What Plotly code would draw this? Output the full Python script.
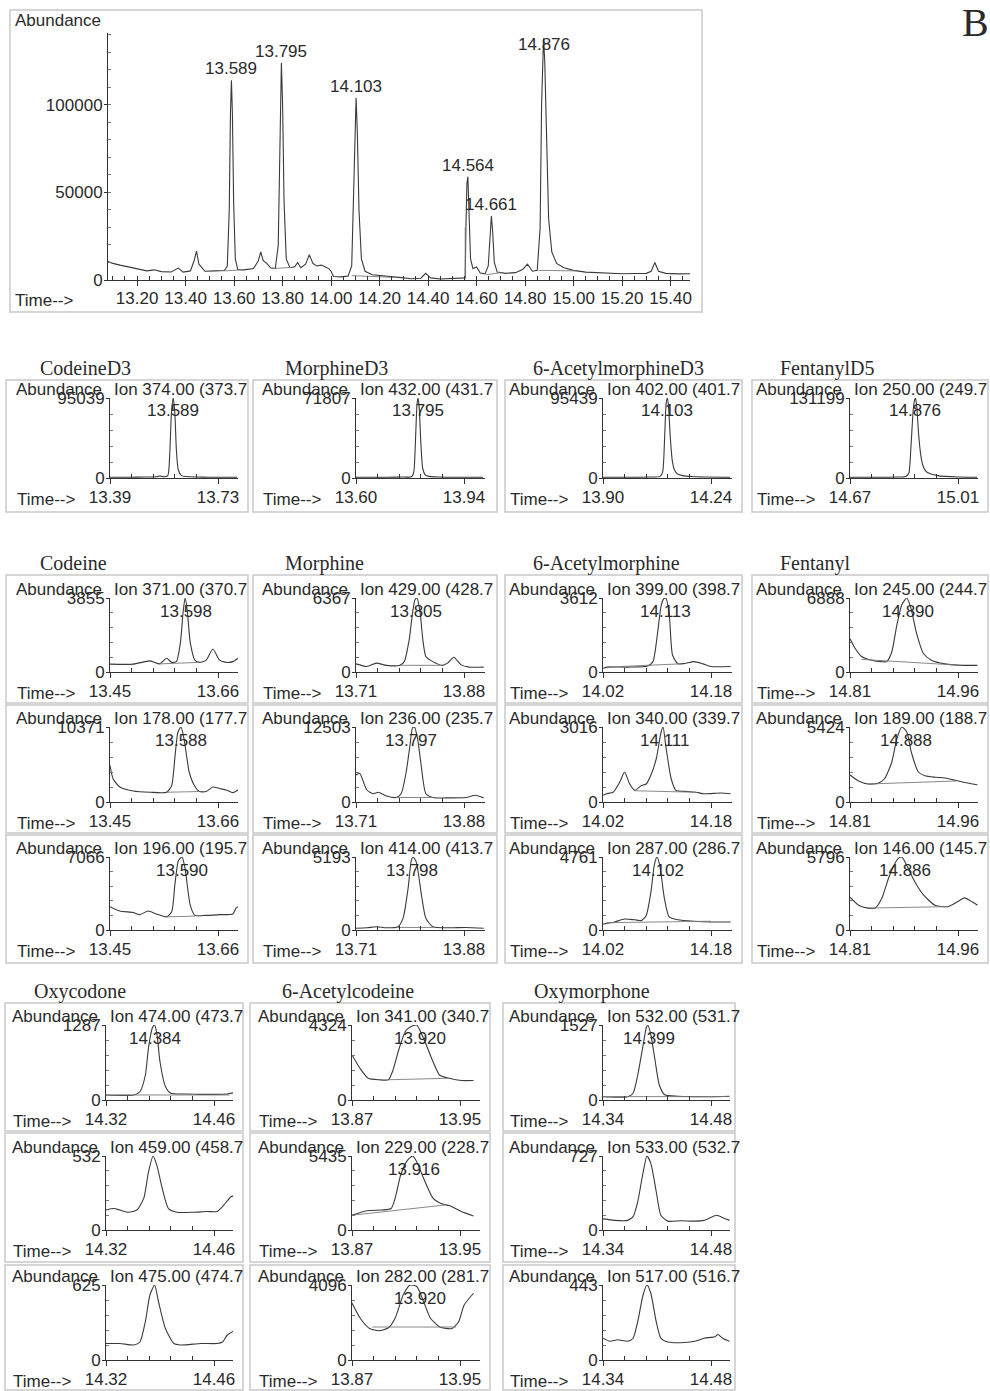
import plotly.graph_objects as go

W, H = 990, 1391

# ===================== DATA =====================
# ---- overview total ion chromatogram ----
tic_time = [13.08, 13.10, 13.13, 13.16, 13.20, 13.24, 13.27, 13.30, 13.34, 13.37, 13.39, 13.42, 13.435, 13.445, 13.455,
            13.48, 13.52, 13.56, 13.572, 13.580, 13.585, 13.589, 13.593, 13.598, 13.605, 13.615, 13.64, 13.68, 13.70,
            13.71, 13.72, 13.735, 13.75, 13.77, 13.782, 13.789, 13.795, 13.800, 13.806, 13.815, 13.83, 13.85, 13.862,
            13.875, 13.895, 13.91, 13.925, 13.94, 13.96, 13.975, 13.99, 14.00, 14.01, 14.04, 14.07, 14.085, 14.093,
            14.099, 14.103, 14.108, 14.115, 14.125, 14.14, 14.17, 14.20, 14.24, 14.28, 14.33, 14.37, 14.39, 14.41,
            14.45, 14.50, 14.553, 14.556, 14.560, 14.564, 14.568, 14.575, 14.585, 14.60, 14.615, 14.635, 14.648,
            14.655, 14.661, 14.666, 14.673, 14.685, 14.72, 14.76, 14.79, 14.81, 14.83, 14.85, 14.862, 14.868, 14.872,
            14.876, 14.881, 14.888, 14.897, 14.91, 14.93, 14.96, 15.00, 15.05, 15.10, 15.15, 15.20, 15.25, 15.30,
            15.32, 15.335, 15.35, 15.38, 15.43, 15.48]
tic_abund = [10500, 9500, 8500, 7600, 6500, 5200, 5800, 4800, 4600, 6800, 4500, 5200, 11000, 16500, 9000,
             5000, 5200, 5400, 8000, 40000, 95000, 114000, 95000, 45000, 12000, 6000, 5800, 6500, 11000,
             16000, 11000, 9500, 7000, 6500, 20000, 90000, 124000, 100000, 45000, 12000, 7000, 7500, 10000,
             7000, 9000, 14500, 9500, 8000, 8500, 7500, 6500, 5000, 2000, 1800, 2200, 8000, 50000,
             95000, 104000, 85000, 40000, 12000, 5000, 3000, 2700, 2200, 1500, 700, 1000, 3800, 1200,
             600, 800, 1200, 30000, 55000, 59000, 40000, 12000, 6500, 7500, 4000, 3500, 8000,
             28000, 36500, 28000, 10000, 4500, 3800, 4200, 6000, 9000, 5000, 5500, 30000, 100000, 130000,
             138000, 125000, 80000, 35000, 16000, 9500, 7000, 5500, 4500, 4200, 3800, 3600, 3700, 3800,
             5000, 10000, 5000, 3800, 3500, 3600]
tic_peak_labels = ["13.589", "13.795", "14.103", "14.564", "14.661", "14.876"]
tic_peak_heights = [114000, 124000, 104000, 59000, 36500, 138000]
tic_xtick_labels = ["13.20", "13.40", "13.60", "13.80", "14.00", "14.20", "14.40", "14.60", "14.80", "15.00",
                    "15.20", "15.40"]
tic_ytick_labels = ["0", "50000", "100000"]
tic_base_t = [[13.555, 13.64], [13.755, 13.85], [14.085, 14.26], [14.553, 14.553], [14.64, 14.70], [14.855, 15.01]]
tic_base_y = [[5200, 5800], [6500, 7300], [2500, 1500], [600, 30000], [3000, 4200], [5500, 5200]]

# ---- extracted ion chromatograms: time (min) and relative abundance (% of panel max) ----
codeineD3_t = [13.39, 13.45, 13.50, 13.536, 13.547, 13.56, 13.572, 13.578, 13.584, 13.589, 13.594, 13.599, 13.605,
               13.615, 13.63, 13.66, 13.70, 13.79]
codeineD3_p = [1.0, 1.0, 1.2, 1.5, 2.5, 1.5, 3, 30, 85, 100, 82, 35, 10, 3, 1.8, 1.3, 1.0, 1.0]
morphineD3_t = [13.60, 13.65, 13.70, 13.75, 13.775, 13.782, 13.788, 13.792, 13.795, 13.799, 13.804, 13.81, 13.818,
                13.83, 13.86, 13.90, 14.00]
morphineD3_p = [1.0, 1.0, 1.0, 1.2, 1.5, 8, 55, 92, 100, 88, 45, 12, 4, 2, 1.2, 1.0, 1.0]
acmorD3_t = [13.90, 13.95, 14.00, 14.05, 14.08, 14.088, 14.094, 14.099, 14.103, 14.107, 14.112, 14.118, 14.125,
             14.135, 14.15, 14.18, 14.22, 14.30]
acmorD3_p = [1.0, 1.0, 1.0, 1.2, 2, 8, 50, 94, 100, 85, 50, 22, 10, 5, 3, 1.8, 1.2, 1.0]
fentD5_t = [14.67, 14.75, 14.82, 14.845, 14.855, 14.862, 14.869, 14.873, 14.876, 14.880, 14.886, 14.893, 14.90,
            14.91, 14.925, 14.945, 14.97, 15.01, 15.07]
fentD5_p = [1.0, 1.0, 1.2, 2, 6, 40, 85, 97, 100, 90, 55, 28, 15, 8, 5, 3, 2, 1.3, 1.0]

codeine1_t = [13.45, 13.495, 13.528, 13.547, 13.56, 13.57, 13.579, 13.587, 13.592, 13.596, 13.600, 13.606, 13.615,
              13.624, 13.637, 13.65, 13.663, 13.676, 13.689, 13.699]
codeine1_p = [10.6, 10.6, 15, 11, 18.5, 13, 14, 40, 80, 100, 85, 40, 16, 13, 16, 31, 16, 13, 14, 18.5]
codeine2_t = [13.45, 13.456, 13.469, 13.495, 13.528, 13.56, 13.57, 13.576, 13.582, 13.588, 13.594, 13.604, 13.614,
              13.624, 13.637, 13.65, 13.663, 13.676, 13.689, 13.699]
codeine2_p = [49, 31, 20, 14.7, 13, 13, 22, 58, 93, 100, 84, 40, 22, 14, 14, 20, 18, 16, 12.5, 16]
codeine3_t = [13.45, 13.469, 13.495, 13.508, 13.524, 13.54, 13.56, 13.57, 13.576, 13.583, 13.590, 13.596, 13.606,
              13.615, 13.637, 13.663, 13.689, 13.695, 13.699]
codeine3_p = [32, 26, 24, 21, 26, 22, 18, 25, 61, 95, 100, 84, 34, 20, 20, 21, 22, 30, 32]

morphine1_t = [13.71, 13.727, 13.742, 13.758, 13.779, 13.786, 13.794, 13.799, 13.803, 13.806, 13.811, 13.815, 13.82,
               13.831, 13.846, 13.854, 13.864, 13.875, 13.888, 13.911]
morphine1_p = [11, 7.5, 12, 9, 9, 14, 45, 80, 98, 100, 80, 45, 21, 14, 9, 12, 20, 10, 6.6, 6.6]
morphine2_t = [13.71, 13.716, 13.727, 13.737, 13.745, 13.758, 13.773, 13.781, 13.789, 13.795, 13.799, 13.802,
               13.807, 13.812, 13.82, 13.831, 13.857, 13.883, 13.898, 13.911]
morphine2_p = [36, 38, 16, 11, 13, 8, 6, 11, 40, 76, 99, 100, 84, 53, 11, 6, 5.5, 6, 9, 5.5]
morphine3_t = [13.71, 13.727, 13.742, 13.758, 13.776, 13.784, 13.792, 13.797, 13.800, 13.805, 13.813, 13.82,
               13.831, 13.857, 13.883, 13.911]
morphine3_p = [2.3, 3, 4.5, 3, 4.5, 16, 57, 95, 100, 93, 48, 16, 4.5, 3, 3.5, 2.3]

acmor1_t = [14.02, 14.027, 14.057, 14.086, 14.094, 14.101, 14.106, 14.110, 14.113, 14.118, 14.123, 14.131, 14.141,
            14.155, 14.168, 14.18, 14.209]
acmor1_p = [5, 6.6, 6.6, 8, 14, 54, 89, 99, 100, 80, 23, 11, 11.5, 14, 11, 7.5, 7.5]
acmor2_t = [14.02, 14.025, 14.035, 14.045, 14.052, 14.059, 14.067, 14.077, 14.084, 14.091, 14.099, 14.106, 14.109,
            14.113, 14.121, 14.128, 14.145, 14.158, 14.17, 14.195, 14.209]
acmor2_p = [9, 11, 13, 27, 40, 25, 15.5, 22, 24, 36, 58, 93, 100, 75, 31, 15.5, 14, 13, 11, 12, 11]
acmor3_t = [14.02, 14.025, 14.037, 14.052, 14.067, 14.077, 14.084, 14.091, 14.096, 14.100, 14.104, 14.111, 14.118,
            14.131, 14.155, 14.18, 14.209]
acmor3_p = [8, 9, 11, 15, 14, 13, 20, 52, 89, 100, 89, 43, 18, 14, 12, 11, 11]

fent1_t = [14.81, 14.817, 14.826, 14.84, 14.854, 14.861, 14.868, 14.875, 14.882, 14.889, 14.895, 14.902, 14.912,
           14.923, 14.942, 14.965, 14.987]
fent1_p = [45, 32, 21, 16, 14, 14, 27, 63, 91, 100, 85, 54, 25, 16, 11, 9, 9]
fent2_t = [14.81, 14.822, 14.835, 14.849, 14.858, 14.868, 14.875, 14.882, 14.889, 14.895, 14.905, 14.914, 14.928,
           14.942, 14.956, 14.969, 14.987]
fent2_p = [36, 28, 24, 25, 31, 53, 84, 100, 93, 67, 40, 35, 33, 32, 29, 26, 23]
fent3_t = [14.81, 14.822, 14.835, 14.845, 14.854, 14.865, 14.877, 14.882, 14.891, 14.90, 14.912, 14.928, 14.946,
           14.96, 14.969, 14.979, 14.987]
fent3_p = [45, 34, 30, 30, 43, 75, 98, 100, 84, 66, 48, 34, 32, 39, 44, 39, 34]

oxyc1_t = [14.32, 14.356, 14.364, 14.371, 14.375, 14.38, 14.383, 14.386, 14.39, 14.397, 14.404, 14.425, 14.443,
           14.464, 14.477, 14.485]
oxyc1_p = [6.7, 6.7, 11, 33, 69, 96, 100, 88, 51, 18, 9, 8, 7.5, 7.5, 8, 9.5]
oxyc2_t = [14.32, 14.33, 14.338, 14.349, 14.36, 14.369, 14.375, 14.381, 14.386, 14.393, 14.401, 14.412, 14.434,
           14.451, 14.464, 14.473, 14.482, 14.486]
oxyc2_p = [27, 29, 27, 24, 27, 43, 78, 100, 87, 56, 29, 24, 24, 25, 25, 34, 45, 46]
oxyc3_t = [14.32, 14.338, 14.356, 14.364, 14.371, 14.377, 14.383, 14.388, 14.397, 14.408, 14.417, 14.443, 14.464,
           14.471, 14.477, 14.486]
oxyc3_p = [22, 22, 20, 24, 51, 87, 100, 78, 42, 22, 20, 22, 22, 24, 33, 39]

accod1_t = [13.87, 13.876, 13.882, 13.89, 13.897, 13.90, 13.905, 13.91, 13.915, 13.918, 13.924, 13.93, 13.935,
            13.942, 13.951, 13.96]
accod1_p = [60, 42, 29, 27, 27, 38, 69, 93, 99, 100, 78, 51, 33, 29, 26, 26]
accod2_t = [13.87, 13.881, 13.892, 13.899, 13.902, 13.906, 13.911, 13.915, 13.918, 13.923, 13.93, 13.937, 13.942,
            13.951, 13.96]
accod2_p = [20, 26, 27, 29, 43, 74, 94, 100, 92, 70, 43, 35, 33, 25, 19]
accod3_t = [13.87, 13.876, 13.883, 13.89, 13.897, 13.902, 13.908, 13.913, 13.918, 13.923, 13.928, 13.935, 13.944,
            13.949, 13.953, 13.96]
accod3_p = [76, 56, 42, 39, 43, 56, 87, 100, 98, 78, 56, 44, 42, 51, 73, 89]

oxym1_t = [14.34, 14.372, 14.379, 14.385, 14.392, 14.396, 14.398, 14.402, 14.407, 14.413, 14.42, 14.437, 14.459,
           14.48, 14.504]
oxym1_p = [4.4, 4.4, 9, 33, 73, 96, 100, 87, 56, 20, 7, 5, 4.5, 4.4, 5]
oxym2_t = [14.34, 14.355, 14.372, 14.379, 14.385, 14.392, 14.397, 14.402, 14.409, 14.415, 14.424, 14.441, 14.459,
           14.471, 14.487, 14.497, 14.504]
oxym2_p = [15, 13, 13, 18, 38, 78, 100, 90, 52, 20, 12, 12.5, 12, 13, 20, 16, 13]
oxym3_t = [14.34, 14.349, 14.359, 14.372, 14.379, 14.385, 14.392, 14.397, 14.402, 14.409, 14.415, 14.424, 14.441,
           14.459, 14.471, 14.485, 14.489, 14.495, 14.504]
oxym3_p = [29, 25, 27, 25, 29, 51, 87, 100, 89, 51, 29, 24, 23, 25, 29, 31, 34, 29, 25]

# panel metadata (grid of 4 columns: internal standards row + 3 ion rows)
grid4_titles = [["CodeineD3", "MorphineD3", "6-AcetylmorphineD3", "FentanylD5"],
                ["Codeine", "Morphine", "6-Acetylmorphine", "Fentanyl"]]
grid4_series = [[(codeineD3_t, codeineD3_p), (morphineD3_t, morphineD3_p), (acmorD3_t, acmorD3_p), (fentD5_t, fentD5_p)],
                [(codeine1_t, codeine1_p), (morphine1_t, morphine1_p), (acmor1_t, acmor1_p), (fent1_t, fent1_p)],
                [(codeine2_t, codeine2_p), (morphine2_t, morphine2_p), (acmor2_t, acmor2_p), (fent2_t, fent2_p)],
                [(codeine3_t, codeine3_p), (morphine3_t, morphine3_p), (acmor3_t, acmor3_p), (fent3_t, fent3_p)]]
grid4_max = [[95039, 71807, 95439, 131199],
             [3855, 6367, 3612, 6888],
             [10371, 12503, 3016, 5424],
             [7066, 5193, 4761, 5796]]
grid4_ions = [["Ion 374.00 (373.7", "Ion 432.00 (431.7", "Ion 402.00 (401.7", "Ion 250.00 (249.7"],
              ["Ion 371.00 (370.7", "Ion 429.00 (428.7", "Ion 399.00 (398.7", "Ion 245.00 (244.7"],
              ["Ion 178.00 (177.7", "Ion 236.00 (235.7", "Ion 340.00 (339.7", "Ion 189.00 (188.7"],
              ["Ion 196.00 (195.7", "Ion 414.00 (413.7", "Ion 287.00 (286.7", "Ion 146.00 (145.7"]]
grid4_peaks = [["13.589", "13.795", "14.103", "14.876"],
               ["13.598", "13.805", "14.113", "14.890"],
               ["13.588", "13.797", "14.111", "14.888"],
               ["13.590", "13.798", "14.102", "14.886"]]
grid4_xlabels = [[("13.39", "13.73"), ("13.60", "13.94"), ("13.90", "14.24"), ("14.67", "15.01")],
                 [("13.45", "13.66"), ("13.71", "13.88"), ("14.02", "14.18"), ("14.81", "14.96")],
                 [("13.45", "13.66"), ("13.71", "13.88"), ("14.02", "14.18"), ("14.81", "14.96")],
                 [("13.45", "13.66"), ("13.71", "13.88"), ("14.02", "14.18"), ("14.81", "14.96")]]
grid4_base = [[None, None, None, None],
              [([13.547, 13.624], [11, 13]), ([13.779, 13.846], [9, 9]), ([14.025, 14.135], [6.6, 11]), ([14.826, 14.965], [17, 9])],
              [([13.56, 13.624], [13, 14]), ([13.773, 13.831], [6, 6]), ([14.067, 14.158], [15, 13]), ([14.835, 14.958], [24, 28])],
              [([13.56, 13.615], [18, 19]), ([13.776, 13.831], [3.5, 3.5]), ([14.025, 14.18], [10, 12]), ([14.835, 14.946], [30, 32])]]

grid3_titles = ["Oxycodone", "6-Acetylcodeine", "Oxymorphone"]
grid3_series = [[(oxyc1_t, oxyc1_p), (accod1_t, accod1_p), (oxym1_t, oxym1_p)],
                [(oxyc2_t, oxyc2_p), (accod2_t, accod2_p), (oxym2_t, oxym2_p)],
                [(oxyc3_t, oxyc3_p), (accod3_t, accod3_p), (oxym3_t, oxym3_p)]]
grid3_max = [[1287, 4324, 1527], [532, 5435, 727], [625, 4096, 443]]
grid3_ions = [["Ion 474.00 (473.7", "Ion 341.00 (340.7", "Ion 532.00 (531.7"],
              ["Ion 459.00 (458.7", "Ion 229.00 (228.7", "Ion 533.00 (532.7"],
              ["Ion 475.00 (474.7", "Ion 282.00 (281.7", "Ion 517.00 (516.7"]]
grid3_peaks = [["14.384", "13.920", "14.399"], [None, "13.916", None], [None, "13.920", None]]
grid3_xlabels = [("14.32", "14.46"), ("13.87", "13.95"), ("14.34", "14.48")]
grid3_base = [[([14.32, 14.48], [6.7, 6.7]), ([13.897, 13.942], [27, 29]), ([14.34, 14.50], [4.5, 4.5])],
              [None, ([13.87, 13.94], [20, 34]), None],
              [None, ([13.885, 13.947], [44, 44]), None]]

# ===================== LAYOUT GEOMETRY (pixels) =====================
COLS4 = [(110, 238, 6, 248, 38), (356, 485, 253, 497, 283), (603, 732, 505, 742, 531), (850, 978, 752, 988, 778)]
ROWS4 = [(478, 398, 380, 512), (672, 598, 575, 703), (802, 727, 705, 833), (930, 857, 835, 963)]
COLS3 = [(106, 233, 5, 243, 32), (352, 480, 250, 490, 280), (603, 730, 503, 735, 532)]
ROWS3 = [(1100, 1025, 1003, 1131), (1230, 1156, 1133, 1262), (1360, 1285, 1265, 1390)]

SANS = "Liberation Sans, Arial, sans-serif"
SERIF = "Liberation Serif, Times New Roman, serif"
TXT = "#2a2a2a"
AX = "#333333"
LINE = "#3a3a3a"
BASE = "#7a7a7a"
BOX = "#c9c9c9"
FS = 17


def fx(px):
    return px / W


def fy(py):
    return 1 - py / H


fig = go.Figure()
layout_axes = {}
annotations = []
shapes = []
counter = [0]


def new_axes(ax_px, end_px, zero_py, top_py, xrange, yrange, xtv, xtt, xminor, ytv, ytt, yminor, xstand):
    counter[0] += 1
    i = counter[0]
    xn = "x" if i == 1 else f"x{i}"
    yn = "y" if i == 1 else f"y{i}"
    common = dict(showgrid=False, zeroline=False, showline=True, linecolor=AX, linewidth=1,
                  ticks="outside", tickcolor=AX, tickwidth=1, fixedrange=True, automargin=False,
                  tickfont=dict(family=SANS, size=FS, color=TXT), tickmode="array")
    layout_axes["xaxis" if i == 1 else f"xaxis{i}"] = dict(
        common, domain=[fx(ax_px), fx(end_px)], range=xrange, anchor=yn,
        tickvals=xtv, ticktext=xtt, ticklen=5, ticklabelstandoff=xstand,
        minor=dict(tickmode="array", tickvals=xminor, ticks="inside", ticklen=4, tickcolor=AX, tickwidth=1))
    layout_axes["yaxis" if i == 1 else f"yaxis{i}"] = dict(
        common, domain=[fy(zero_py), fy(top_py)], range=yrange, anchor=xn,
        tickvals=ytv, ticktext=ytt, ticklen=3, ticklabelstandoff=-2,
        minor=dict(tickmode="array", tickvals=yminor, ticks="inside", ticklen=3, tickcolor="#777", tickwidth=1))
    return xn, yn


def text(x, y, s, size=FS, family=SANS, xanchor="left", yanchor="middle", xref="paper", yref="paper"):
    annotations.append(dict(x=x, y=y, xref=xref, yref=yref, text=s, showarrow=False,
                            xanchor=xanchor, yanchor=yanchor,
                            font=dict(family=family, size=size, color=TXT)))


def box(x0, y0, x1, y1):
    shapes.append(dict(type="rect", xref="paper", yref="paper", x0=fx(x0), x1=fx(x1), y0=fy(y1), y1=fy(y0),
                       line=dict(color=BOX, width=1.5), fillcolor="rgba(0,0,0,0)", layer="below"))


# ---------- overview panel ----------
box(10, 10, 702, 312)
tic_xmajor = [float(s) for s in tic_xtick_labels]
tic_xminor = [round(13.10 + 0.05 * k, 2) for k in range(48)]
tic_ymajor = [float(s) for s in tic_ytick_labels]
tic_yminor = [10000 * k for k in range(1, 15)]
xn, yn = new_axes(108, 690, 280, 33, [13.08, 15.48], [0, 141000],
                  tic_xmajor, tic_xtick_labels, tic_xminor, tic_ymajor, tic_ytick_labels, tic_yminor, -2)
fig.add_trace(go.Scatter(x=tic_time, y=tic_abund, mode="lines", xaxis=xn, yaxis=yn,
                         line=dict(color=LINE, width=1.1), hoverinfo="skip"))
for bt, by in zip(tic_base_t, tic_base_y):
    fig.add_trace(go.Scatter(x=bt, y=by, mode="lines", xaxis=xn, yaxis=yn,
                             line=dict(color=BASE, width=0.9), hoverinfo="skip"))
for lab, h in zip(tic_peak_labels, tic_peak_heights):
    text(float(lab), min(h, 128000), lab, xanchor="center", yanchor="bottom", xref=xn, yref=yn)
text(fx(13), fy(20), "Abundance")
text(fx(13), fy(301), "Time-->")
text(fx(975), fy(22), "B", size=40, family=SERIF, xanchor="center")


def small_panel(col, row, series, ymax, ion, peak, xlabels, base):
    ax_px, end_px, bx0, bx1, _ = col
    zero_py, top_py, by0, by1 = row
    box(bx0, by0, bx1, by1)
    x0, x1 = float(xlabels[0]), float(xlabels[1])
    step = (x1 - x0) / 5
    xend = x0 + (x1 - x0) * (end_px - ax_px) / 108.0
    xminor = [x0 + k * step for k in range(1, 5)]
    yminor = [ymax * k / 5 for k in range(1, 5)]
    xn, yn = new_axes(ax_px, end_px, zero_py, top_py, [x0, xend], [0, ymax],
                      [x0, x1], list(xlabels), xminor, [0, ymax], ["0", str(ymax)], yminor, -1)
    t, p = series
    fig.add_trace(go.Scatter(x=t, y=[v * ymax / 100 for v in p], mode="lines", xaxis=xn, yaxis=yn,
                             line=dict(color=LINE, width=1.1, shape="spline", smoothing=0.6),
                             hoverinfo="skip"))
    if base is not None:
        fig.add_trace(go.Scatter(x=base[0], y=[v * ymax / 100 for v in base[1]], mode="lines",
                                 xaxis=xn, yaxis=yn, line=dict(color=BASE, width=0.9), hoverinfo="skip"))
    text(fx(ax_px - 96), fy(top_py - 9), "Abundance")
    text(fx(ax_px + 2), fy(top_py - 9), ion)
    text(fx(ax_px - 95), fy(zero_py + 21), "Time-->")
    if peak is not None:
        text(float(peak), 1 - 13.0 / (zero_py - top_py), peak, xanchor="center",
             xref=xn, yref=f"{yn} domain")


# ---------- 4-column grid ----------
for r in range(4):
    for c in range(4):
        small_panel(COLS4[c], ROWS4[r], grid4_series[r][c], grid4_max[r][c], grid4_ions[r][c],
                    grid4_peaks[r][c], grid4_xlabels[r][c], grid4_base[r][c])
for r_title, row_geo in zip(grid4_titles, [ROWS4[0], ROWS4[1]]):
    for c in range(4):
        text(fx(COLS4[c][4]), fy(row_geo[2] - 12), r_title[c], size=20, family=SERIF)

# ---------- 3-column grid ----------
for r in range(3):
    for c in range(3):
        small_panel(COLS3[c], ROWS3[r], grid3_series[r][c], grid3_max[r][c], grid3_ions[r][c],
                    grid3_peaks[r][c], grid3_xlabels[c], grid3_base[r][c])
for c in range(3):
    text(fx(COLS3[c][4]), fy(ROWS3[0][2] - 12), grid3_titles[c], size=20, family=SERIF)

fig.update_layout(template="none", width=W, height=H, autosize=False, margin=dict(l=0, r=0, t=0, b=0, pad=0),
                  paper_bgcolor="white", plot_bgcolor="white", showlegend=False,
                  annotations=annotations, shapes=shapes, **layout_axes)
fig.write_html("out.html", config={"displayModeBar": False},
               post_script="document.body.style.margin='0px';document.body.style.overflow='hidden';")
